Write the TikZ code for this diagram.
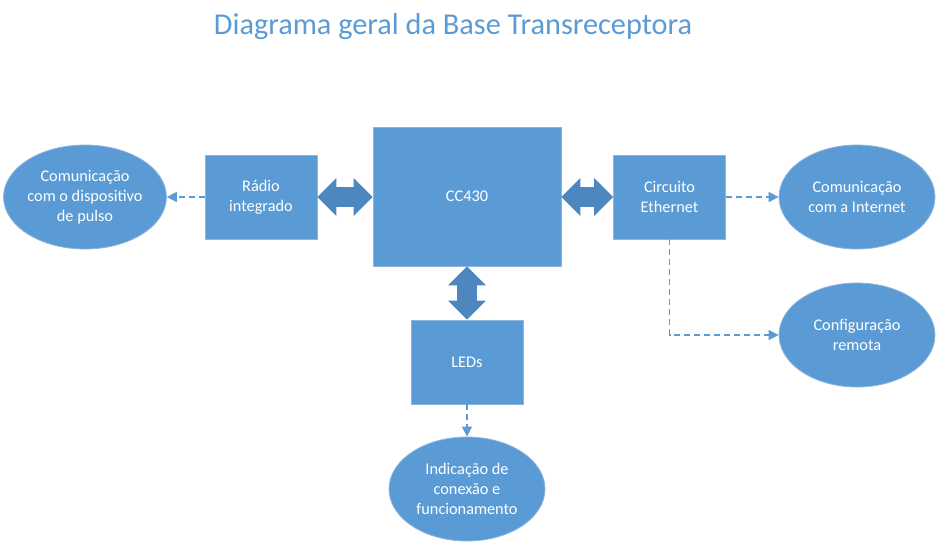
\documentclass[tikz,border=0pt]{standalone}
\usepackage{fontspec}
\setmainfont{Carlito}
\usetikzlibrary{shapes.geometric,arrows.meta}

\definecolor{boxblue}{HTML}{5B9BD5}
\definecolor{boxedge}{HTML}{8FB4DE}
\definecolor{arrowblue}{HTML}{4E86BF}

\tikzset{
  box/.style={rectangle,fill=boxblue,draw=boxedge,line width=0.8pt,minimum width=112pt,minimum height=84pt,inner sep=0pt,text=white,align=center,font=\fontsize{16.3}{20}\selectfont},
  blob/.style={ellipse,fill=boxblue,draw=boxedge,line width=0.8pt,minimum width=156pt,minimum height=104pt,inner sep=0pt,text=white,align=center,font=\fontsize{16.3}{20}\selectfont},
  bigarrow/.style={arrowblue,line width=20pt,{Triangle[length=19pt,width=38pt,line width=0pt]}-{Triangle[length=19pt,width=38pt,line width=0pt]}},
  dashlink/.style={boxblue,line width=1.5pt,dash pattern=on 6pt off 4pt,-{Triangle[length=10pt,width=10pt]}}
}

\begin{document}
\begin{tikzpicture}[x=1pt,y=-1pt]
                \useasboundingbox (0,0) rectangle (940,550);

                \node[text=boxblue,font=\fontsize{30.3}{34}\selectfont] (title) at (453,27) {Diagrama geral da Base Transreceptora};

                \node[box,minimum width=188pt,minimum height=139pt] (cc) at (467,196.5) {CC430};
                \node[box] (radio) at (261,197) {Rádio\\integrado};
                \node[box] (eth) at (669.5,197) {Circuito\\Ethernet};
                \node[box] (leds) at (467,362) {LEDs};

                \node[blob] (pulso) at (85,197) {Comunicação\\com o dispositivo\\de pulso};
                \node[blob] (inet) at (857,197) {Comunicação\\com a Internet};
                \node[blob] (remota) at (857,335) {Configuração\\remota};
                \node[blob] (indic) at (467,489) {Indicação de\\conexão e\\funcionamento};

                \draw[bigarrow] (radio.east) -- (radio.east -| cc.west);
                \draw[bigarrow] (cc.east |- eth.west) -- (eth.west);
                \draw[bigarrow] (cc.south) -- (leds.north);

                \draw[dashlink] (radio.west) -- (pulso.east);
                \draw[dashlink] (eth.east) -- (inet.west);
                \draw[dashlink] (eth.south) |- (remota.west);
                \draw[dashlink] (leds.south) -- (indic.north);
            \end{tikzpicture}
\end{document}
